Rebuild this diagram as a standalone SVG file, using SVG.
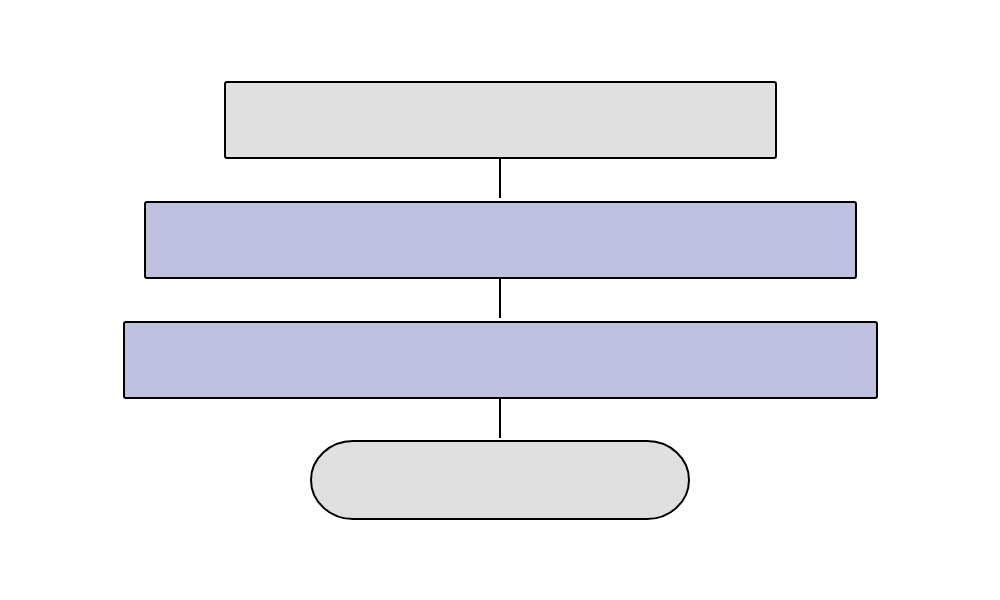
<svg xmlns="http://www.w3.org/2000/svg" width="1000" height="600" viewBox="0 0 1000 600">
<style>
.n{stroke:#000;stroke-width:2}
.g{fill:#e0e0e0}
.b{fill:#c0c0e0}
.c{stroke:#000;stroke-width:2;fill:none}
</style>
<rect width="1000" height="600" fill="#fff"/>
<g id="connectors">
<line class="c" x1="500" y1="158" x2="500" y2="198"/>
<line class="c" x1="500" y1="278" x2="500" y2="318"/>
<line class="c" x1="500" y1="398" x2="500" y2="438"/>
</g>
<g id="node1"><rect class="n g" x="225" y="82" width="551" height="76" rx="2"/></g>
<g id="node2"><rect class="n b" x="145" y="202" width="711" height="76" rx="2"/></g>
<g id="node3"><rect class="n b" x="124" y="322" width="753" height="76" rx="2"/></g>
<g id="node4"><rect class="n g" x="311" y="441" width="378" height="78" rx="42" ry="39"/></g>
</svg>
